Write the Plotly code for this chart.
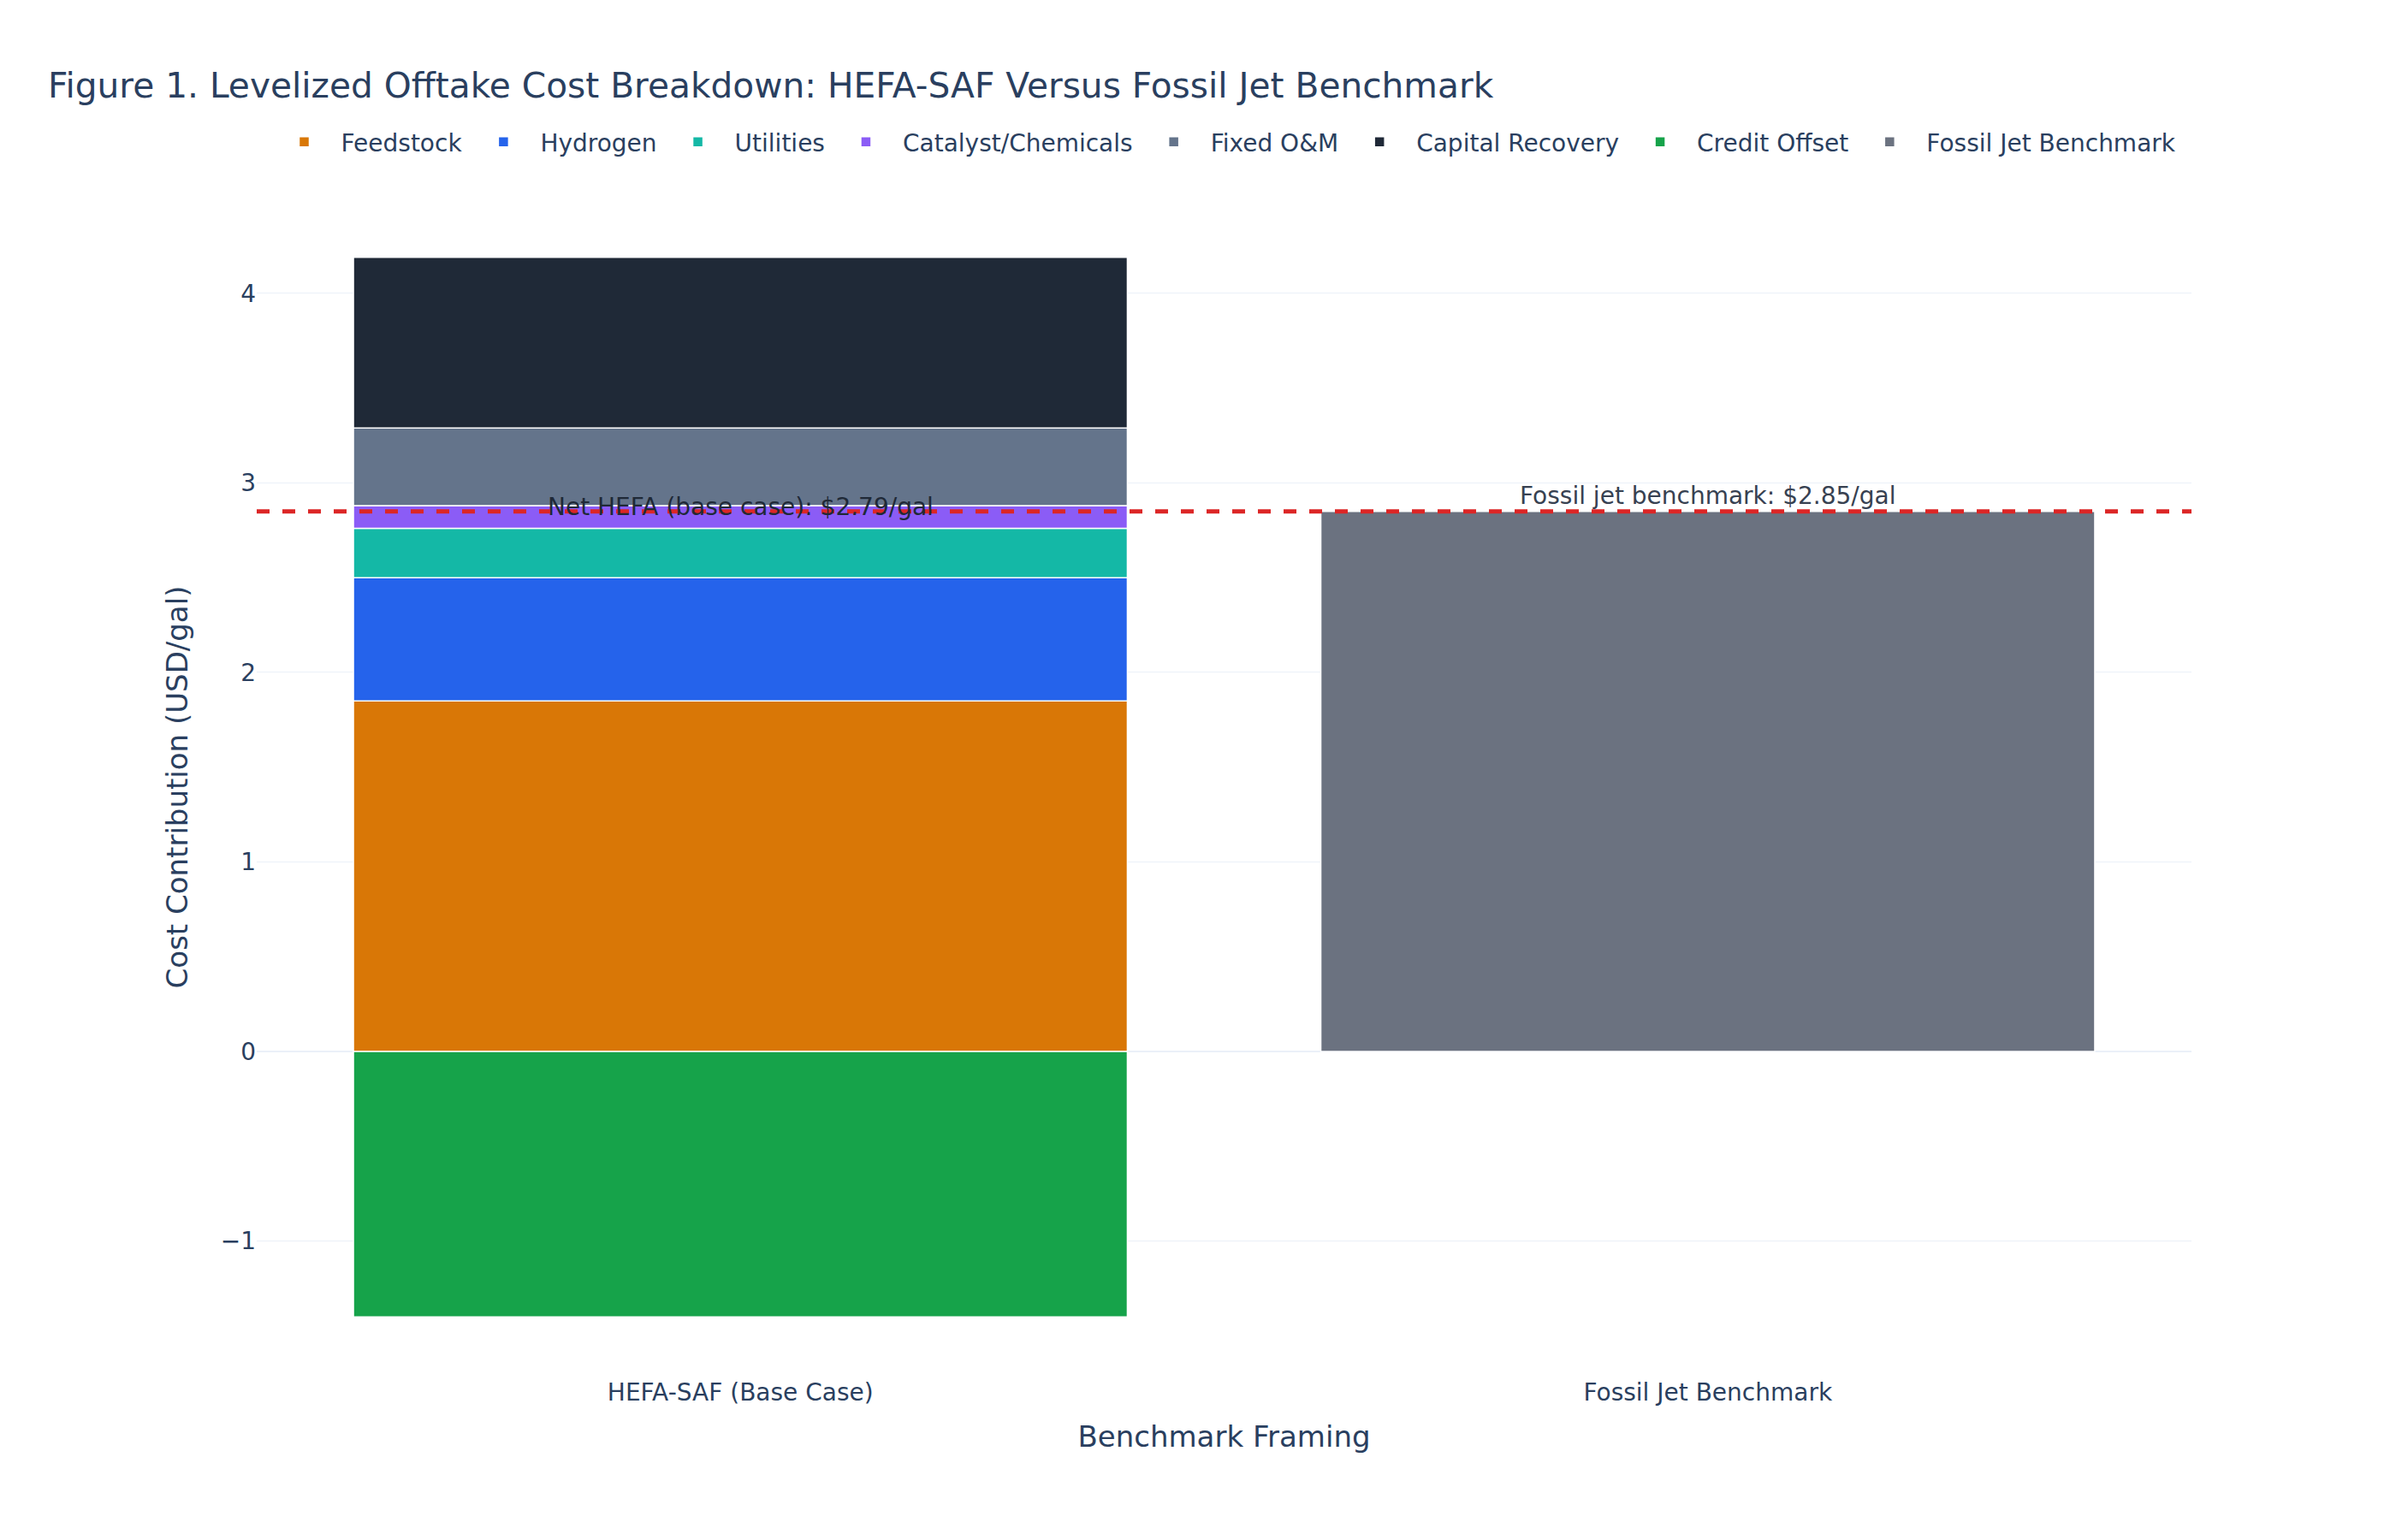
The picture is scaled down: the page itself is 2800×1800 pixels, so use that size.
import plotly.graph_objects as go

categories = ["HEFA-SAF (Base Case)", "Fossil Jet Benchmark"]
components = ["Feedstock", "Hydrogen", "Utilities", "Catalyst/Chemicals", "Fixed O&M", "Capital Recovery", "Credit Offset"]
hefa_values = [1.85, 0.65, 0.26, 0.12, 0.41, 0.90, -1.40]
component_colors = ["#D97706", "#2563EB", "#14B8A6", "#8B5CF6", "#64748B", "#1F2937", "#16A34A"]
fossil_value = 2.85
net_hefa = round(sum(hefa_values), 2)

FONT = "DejaVu Sans"

fig = go.Figure()
for name, val, col in zip(components, hefa_values, component_colors):
    fig.add_trace(go.Bar(
        name=name, x=[categories[0]], y=[val],
        marker=dict(color=col, line=dict(color="white", width=1.5)),
    ))
fig.add_trace(go.Bar(
    name="Fossil Jet Benchmark", x=[categories[1]], y=[fossil_value],
    marker=dict(color="#6B7280", line=dict(color="white", width=1.5)),
))

fig.add_shape(type="line", xref="paper", x0=0, x1=1, yref="y", y0=fossil_value, y1=fossil_value,
              line=dict(color="#DC2626", width=5, dash="dash"))

fig.add_annotation(x=categories[0], y=net_hefa, text=f"Net HEFA (base case): ${net_hefa:.2f}/gal",
                   showarrow=False, yanchor="bottom", font=dict(family=FONT, size=28, color="#1F2937"))
fig.add_annotation(x=categories[1], y=fossil_value, text=f"Fossil jet benchmark: ${fossil_value:.2f}/gal",
                   showarrow=False, yanchor="bottom", font=dict(family=FONT, size=28, color="#374151"))

fig.update_layout(
    template="plotly_white",
    width=2800, height=1800,
    barmode="relative",
    font=dict(family=FONT, size=28),
    title=dict(text="Figure 1. Levelized Offtake Cost Breakdown: HEFA-SAF Versus Fossil Jet Benchmark",
               x=0.02, xanchor="left", yref="container", y=1 - 100 / 1800, yanchor="middle",
               font=dict(family=FONT, size=40.7)),
    legend=dict(orientation="h", x=0.5, xanchor="center", y=1.048, yanchor="middle",
                font=dict(family=FONT, size=28), itemwidth=76),
    margin=dict(l=300, r=239, t=232, b=192),
    xaxis=dict(title=dict(text="Benchmark Framing", font=dict(size=34), standoff=24)),
    yaxis=dict(title=dict(text="Cost Contribution (USD/gal)", font=dict(size=34), standoff=27), zeroline=True),
)

fig.write_html("out.html")
